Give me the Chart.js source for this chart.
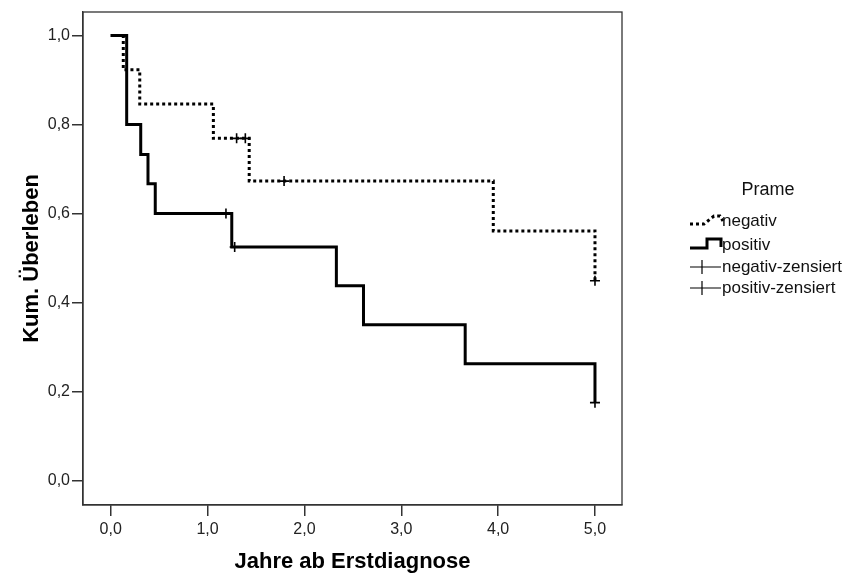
<!DOCTYPE html>
<html>
<head>
<meta charset="utf-8">
<script src="https://cdn.jsdelivr.net/npm/chart.js@4"></script>
<style>
  body { margin: 0; background: #fff; }
  canvas { display: block; }
</style>
</head>
<body>
<canvas id="kmChart" width="850" height="582"></canvas>
<script>
// Kaplan-Meier data
const negTimes = [0, 0.13, 0.30, 1.06, 1.43, 3.95, 5.0];
const negSurv  = [1.0, 0.923, 0.846, 0.769, 0.673, 0.561, 0.449];
const negCensTimes = [1.30, 1.39, 1.79, 5.0];
const negCensSurv  = [0.769, 0.769, 0.673, 0.449];

const posTimes = [0, 0.165, 0.31, 0.385, 0.46, 1.25, 2.33, 2.61, 3.66, 5.0];
const posSurv  = [1.0, 0.8, 0.733, 0.667, 0.6, 0.525, 0.4375, 0.35, 0.2625, 0.175];
const posCensTimes = [1.19, 1.28, 5.0];
const posCensSurv  = [0.6, 0.525, 0.175];

const xTicks = [0, 1, 2, 3, 4, 5];
const yTicks = [0, 0.2, 0.4, 0.6, 0.8, 1.0];

const legendTitle = 'Prame';
const legendLabels = ['negativ', 'positiv', 'negativ-zensiert', 'positiv-zensiert'];

function toPoints(xs, ys)
{
    return xs.map(function (x, i) { return {x: x, y: ys[i]}; });
}

function fmt(v)
{
    return v.toFixed(1).replace('.', ',');
}

// frame round the plot area
const framePlugin = {
    id: 'frame',
    beforeDatasetsDraw(chart)
    {
        const a = chart.chartArea;
        const ctx = chart.ctx;
        ctx.save();
        ctx.strokeStyle = '#333';
        ctx.lineWidth = 1.3;
        ctx.strokeRect(a.left, a.top, a.right - a.left, a.bottom - a.top);
        ctx.restore();
    }
};

// SPSS style legend on the right
const legendPlugin = {
    id: 'spssLegend',
    afterDraw(chart)
    {
        const ctx = chart.ctx;
        const sx = 690;
        const tx = 722;
        ctx.save();
        ctx.fillStyle = '#111';
        ctx.textBaseline = 'middle';

        ctx.font = '18px "Liberation Sans", Arial, sans-serif';
        ctx.textAlign = 'center';
        ctx.fillText(legendTitle, 768, 190);

        ctx.textAlign = 'left';
        ctx.font = '17px "Liberation Sans", Arial, sans-serif';
        const rows = [221, 245, 267, 288];

        // negativ: dotted step
        ctx.strokeStyle = '#000';
        ctx.lineWidth = 3;
        ctx.setLineDash([3, 3]);
        ctx.beginPath();
        ctx.moveTo(sx, rows[0] + 3);
        ctx.lineTo(sx + 14, rows[0] + 3);
        ctx.lineTo(sx + 24, rows[0] - 5);
        ctx.lineTo(sx + 30, rows[0] - 5);
        ctx.lineTo(sx + 33, rows[0]);
        ctx.stroke();
        ctx.setLineDash([]);

        // positiv: solid step
        ctx.beginPath();
        ctx.moveTo(sx, rows[1] + 3);
        ctx.lineTo(sx + 17, rows[1] + 3);
        ctx.lineTo(sx + 17, rows[1] - 6);
        ctx.lineTo(sx + 31, rows[1] - 6);
        ctx.lineTo(sx + 31, rows[1] + 2);
        ctx.stroke();

        // censored: line with a tick
        ctx.lineWidth = 1.2;
        [rows[2], rows[3]].forEach(function (y)
        {
            ctx.beginPath();
            ctx.moveTo(sx, y);
            ctx.lineTo(sx + 31, y);
            ctx.moveTo(sx + 12, y - 7);
            ctx.lineTo(sx + 12, y + 7);
            ctx.stroke();
        });

        legendLabels.forEach(function (t, i) { ctx.fillText(t, tx, rows[i]); });
        ctx.restore();
    }
};

let ctx = document.getElementById('kmChart').getContext('2d');

let chart = new Chart(ctx,
{
    type: 'scatter',
    data:
    {
        datasets:
        [
            {
                label: 'negativ',
                data: toPoints(negTimes, negSurv),
                showLine: true,
                stepped: true,
                borderColor: '#000',
                borderWidth: 3,
                borderDash: [3, 3],
                pointRadius: 0,
                fill: false
            },
            {
                label: 'positiv',
                data: toPoints(posTimes, posSurv),
                showLine: true,
                stepped: true,
                borderColor: '#000',
                borderWidth: 3,
                pointRadius: 0,
                fill: false
            },
            {
                label: 'negativ-zensiert',
                data: toPoints(negCensTimes, negCensSurv),
                showLine: false,
                pointStyle: 'cross',
                pointRadius: 5,
                borderColor: '#000',
                borderWidth: 1.6
            },
            {
                label: 'positiv-zensiert',
                data: toPoints(posCensTimes, posCensSurv),
                showLine: false,
                pointStyle: 'cross',
                pointRadius: 5,
                borderColor: '#000',
                borderWidth: 1.6
            }
        ]
    },
    options:
    {
        responsive: false,
        animation: false,
        layout: { padding: { top: 12, right: 228, bottom: 0, left: 0 } },
        plugins:
        {
            legend: { display: false },
            tooltip: { enabled: false }
        },
        scales:
        {
            x:
            {
                type: 'linear',
                min: -0.286,
                max: 5.279,
                afterBuildTicks: function (s) { s.ticks = xTicks.map(function (v) { return {value: v}; }); },
                afterFit: function (s) { s.height = 77; },
                grid: { drawOnChartArea: false, drawTicks: true, tickLength: 11, color: '#333', lineWidth: 1.5 },
                border: { display: true, color: '#333', width: 1.3 },
                ticks:
                {
                    padding: 4,
                    color: '#222',
                    font: { family: '"Liberation Sans", Arial, sans-serif', size: 16 },
                    callback: function (v) { return fmt(v); }
                },
                title:
                {
                    display: true,
                    text: 'Jahre ab Erstdiagnose',
                    color: '#000',
                    font: { family: '"Liberation Sans", Arial, sans-serif', size: 22, weight: 'bold' },
                    padding: { top: 0, bottom: 7 }
                }
            },
            y:
            {
                type: 'linear',
                min: -0.055,
                max: 1.053,
                afterBuildTicks: function (s) { s.ticks = yTicks.map(function (v) { return {value: v}; }); },
                afterFit: function (s) { s.width = 83; },
                grid: { drawOnChartArea: false, drawTicks: true, tickLength: 11, color: '#333', lineWidth: 1.5 },
                border: { display: true, color: '#333', width: 1.3 },
                ticks:
                {
                    padding: 2,
                    color: '#222',
                    font: { family: '"Liberation Sans", Arial, sans-serif', size: 16 },
                    callback: function (v) { return fmt(v); }
                },
                title:
                {
                    display: true,
                    text: 'Kum. Überleben',
                    color: '#000',
                    font: { family: '"Liberation Sans", Arial, sans-serif', size: 22, weight: 'bold' },
                    padding: { top: 19, bottom: 0 }
                }
            }
        }
    },
    plugins: [framePlugin, legendPlugin]
});
</script>
</body>
</html>
